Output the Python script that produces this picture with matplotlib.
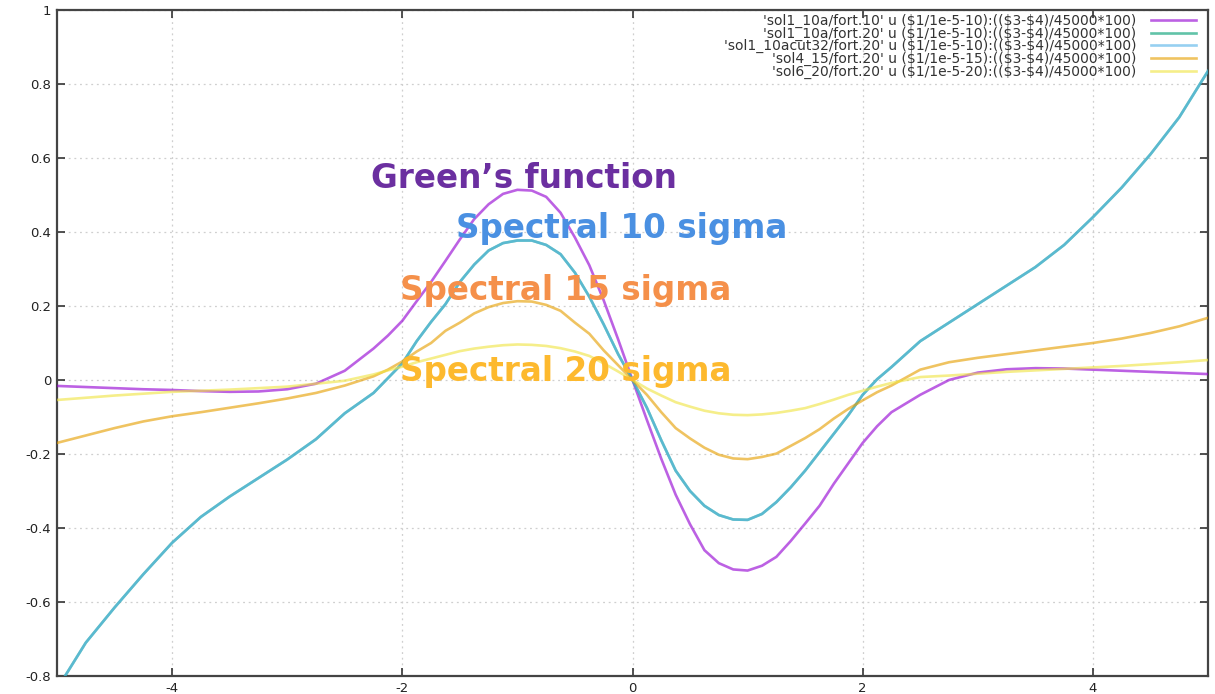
import matplotlib
matplotlib.use("Agg")
import matplotlib.pyplot as plt
from matplotlib.lines import Line2D
from matplotlib.ticker import FuncFormatter

# Sample positions (x / 1e-5 - shift)
x_vals = [-5.0, -4.75, -4.5, -4.25, -4.0, -3.75, -3.5, -3.25, -3.0, -2.75, -2.5,
          -2.25, -2.125, -2.0, -1.875, -1.75, -1.625, -1.5, -1.375, -1.25, -1.125,
          -1.0, -0.875, -0.75, -0.625, -0.5, -0.375, -0.25, -0.125,
          0.0, 0.125, 0.25, 0.375, 0.5, 0.625, 0.75, 0.875,
          1.0, 1.125, 1.25, 1.375, 1.5, 1.625, 1.75, 1.875, 2.0, 2.125, 2.25,
          2.5, 2.75, 3.0, 3.25, 3.5, 3.75, 4.0, 4.25, 4.5, 4.75, 5.0]

# Green's function reference
green_fn = [-0.016, -0.019, -0.022, -0.025, -0.027, -0.030, -0.032, -0.031, -0.025, -0.010, 0.025,
            0.085, 0.120, 0.160, 0.213, 0.265, 0.322, 0.380, 0.435, 0.475, 0.503,
            0.514, 0.512, 0.495, 0.452, 0.385, 0.310, 0.215, 0.110,
            0.000, -0.108, -0.213, -0.310, -0.390, -0.460, -0.495, -0.512,
            -0.515, -0.502, -0.478, -0.435, -0.388, -0.340, -0.280, -0.225, -0.170, -0.125, -0.087,
            -0.040, 0.000, 0.020, 0.029, 0.032, 0.031, 0.028, 0.025, 0.022, 0.019, 0.016]

# Spectral, 10 sigma
spec10 = [-0.835, -0.710, -0.615, -0.525, -0.440, -0.370, -0.315, -0.265, -0.215, -0.160, -0.090,
          -0.035, 0.005, 0.045, 0.105, 0.157, 0.205, 0.265, 0.312, 0.350, 0.370,
          0.377, 0.377, 0.365, 0.340, 0.290, 0.225, 0.150, 0.070,
          0.000, -0.075, -0.163, -0.245, -0.300, -0.340, -0.365, -0.377,
          -0.378, -0.362, -0.330, -0.290, -0.245, -0.195, -0.145, -0.095, -0.040, 0.002, 0.035,
          0.105, 0.155, 0.205, 0.255, 0.305, 0.365, 0.440, 0.520, 0.610, 0.710, 0.835]

# Spectral, 10 sigma (cut at 32) - coincides with spec10
spec10_cut = list(spec10)

# Spectral, 15 sigma
spec15 = [-0.170, -0.150, -0.130, -0.112, -0.098, -0.087, -0.075, -0.063, -0.050, -0.035, -0.015,
          0.010, 0.028, 0.050, 0.077, 0.100, 0.133, 0.155, 0.180, 0.197, 0.208,
          0.213, 0.212, 0.203, 0.187, 0.155, 0.125, 0.080, 0.040,
          0.000, -0.040, -0.087, -0.130, -0.158, -0.183, -0.202, -0.212,
          -0.214, -0.208, -0.199, -0.178, -0.157, -0.133, -0.104, -0.078, -0.055, -0.033, -0.015,
          0.028, 0.048, 0.060, 0.070, 0.080, 0.090, 0.100, 0.112, 0.127, 0.145, 0.168]

# Spectral, 20 sigma
spec20 = [-0.054, -0.048, -0.042, -0.037, -0.032, -0.029, -0.026, -0.022, -0.018, -0.010, -0.002,
          0.015, 0.026, 0.036, 0.048, 0.058, 0.068, 0.078, 0.085, 0.090, 0.094,
          0.096, 0.095, 0.092, 0.086, 0.077, 0.065, 0.045, 0.023,
          0.000, -0.023, -0.042, -0.060, -0.072, -0.083, -0.090, -0.094,
          -0.095, -0.093, -0.089, -0.083, -0.076, -0.065, -0.053, -0.040, -0.029, -0.018, -0.008,
          0.008, 0.012, 0.017, 0.022, 0.026, 0.030, 0.034, 0.038, 0.043, 0.048, 0.054]

legend_labels = [
    "'sol1_10a/fort.10' u ($1/1e-5-10):(($3-$4)/45000*100)",
    "'sol1_10a/fort.20' u ($1/1e-5-10):(($3-$4)/45000*100)",
    "'sol1_10acut32/fort.20' u ($1/1e-5-10):(($3-$4)/45000*100)",
    "'sol4_15/fort.20' u ($1/1e-5-15):(($3-$4)/45000*100)",
    "'sol6_20/fort.20' u ($1/1e-5-20):(($3-$4)/45000*100)",
]
series = [green_fn, spec10, spec10_cut, spec15, spec20]
colors = ["#9400d3", "#009e73", "#56b4e9", "#e69f00", "#f0e442"]

x_ticks = [-4, -2, 0, 2, 4]
y_ticks = [-0.8, -0.6, -0.4, -0.2, 0, 0.2, 0.4, 0.6, 0.8, 1]

annotations = [
    ("Green\u2019s function", -2.27, 0.520, "#6b2fa0"),
    ("Spectral 10 sigma", -1.53, 0.384, "#4a90e2"),
    ("Spectral 15 sigma", -2.02, 0.216, "#f5904a"),
    ("Spectral 20 sigma", -2.02, -0.003, "#fdb92e"),
]

W, H = 1215, 694
LINE_ALPHA = 0.62
fig = plt.figure(figsize=(W / 100, H / 100), dpi=100)
ax = fig.add_axes([57 / W, 1 - 676 / H, (1208 - 57) / W, (676 - 10) / H])

for ys, c in zip(series, colors):
    ax.plot(x_vals, ys, color=c, lw=1.9, alpha=LINE_ALPHA, zorder=3)

ax.set_xlim(-5, 5)
ax.set_ylim(-0.8, 1.0)
ax.set_xticks(x_ticks)
ax.set_yticks(y_ticks)
ax.yaxis.set_major_formatter(FuncFormatter(lambda v, p: f"{v:g}"))
ax.xaxis.set_major_formatter(FuncFormatter(lambda v, p: f"{v:g}"))
ax.tick_params(direction="in", length=6, width=1.2, color="#333333",
               top=True, right=True, labelsize=9.5, labelcolor="#222222", pad=4)
ax.grid(True, linestyle=(0, (1.5, 3)), color="#cfcfcf", lw=0.9, zorder=0)
for s in ax.spines.values():
    s.set_color("#444444")
    s.set_linewidth(1.6)

for txt, xx, yy, c in annotations:
    ax.text(xx, yy, txt, color=c, fontsize=23.5, fontweight="bold",
            ha="left", va="baseline", zorder=5)

# key: right-aligned entries with the line sample after the text
row_y = [21, 33.7, 46.4, 59.1, 71.8]
for lab, c, ry in zip(legend_labels, colors, row_y):
    fy = 1 - ry / H
    fig.text(1136 / W, fy, lab, ha="right", va="center", fontsize=10,
             color="#333333")
    fig.add_artist(Line2D([1151 / W, 1196 / W], [fy + 1 / H, fy + 1 / H],
                          transform=fig.transFigure,
                          color=c, lw=1.9, alpha=LINE_ALPHA))

fig.savefig("out.png", dpi=100)
